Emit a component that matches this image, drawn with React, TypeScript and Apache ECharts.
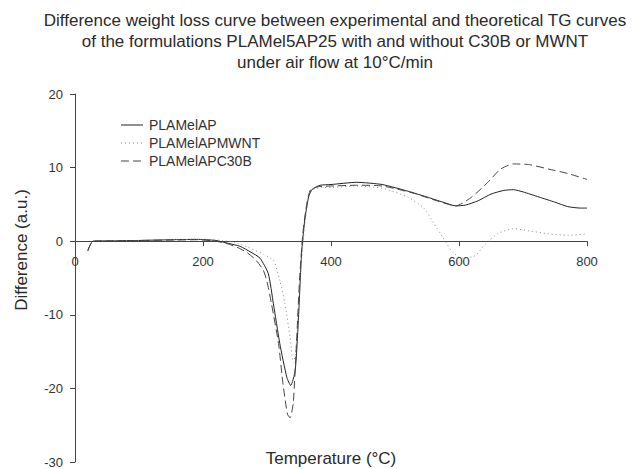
import React, { useEffect, useRef } from "react";
import * as echarts from "echarts";

const titleLines = [
  "Difference weight loss curve between experimental and theoretical TG curves",
  "of the formulations PLAMel5AP25 with and without C30B or MWNT",
  "under air flow at 10°C/min",
];
const xName = "Temperature (°C)";
const yName = "Difference (a.u.)";
const seriesNames = ["PLAMelAP", "PLAMelAPMWNT", "PLAMelAPC30B"];

const apT = [20, 28, 60, 100, 150, 190, 220, 240, 258, 275, 289, 302, 310, 320, 331, 337, 344, 349, 354, 359, 365, 370, 383, 400, 440, 480, 520, 550, 575, 595, 610, 630, 650, 670, 685, 700, 725, 750, 770, 790, 800];
const apV = [-1.3, 0, 0.05, 0.1, 0.2, 0.25, 0.1, -0.3, -0.7, -1.5, -2.3, -4.4, -8.5, -13.9, -18.5, -19.6, -17.6, -10.8, -1.7, 2.9, 6.0, 7.0, 7.6, 7.7, 8.0, 7.7, 6.8, 6.0, 5.3, 4.8, 4.9, 5.5, 6.4, 6.9, 7.0, 6.7, 6.0, 5.3, 4.7, 4.5, 4.5];

const mwT = [20, 28, 60, 100, 150, 190, 230, 250, 270, 295, 310, 320, 328, 336, 341, 345, 350, 355, 360, 366, 372, 385, 400, 440, 480, 520, 545, 560, 575, 590, 605, 625, 640, 660, 685, 710, 740, 770, 800];
const mwV = [-1.3, 0, 0.05, 0.1, 0.2, 0.25, 0.1, -0.2, -0.8, -1.8, -2.6, -5.3, -8.5, -13, -16.5, -15, -8, -1.5, 3, 6.3, 7.0, 7.3, 7.3, 7.5, 7.2, 6.0, 4.5, 2.5, 0.5, -1.5, -2.3, -2.0, -0.5, 1.0, 1.7, 1.4, 1.0, 0.8, 1.0];

const c30T = [20, 28, 60, 100, 150, 190, 220, 240, 255, 268, 282, 294, 300, 307, 318, 325, 332, 336, 341, 346, 351, 356, 362, 368, 380, 400, 440, 480, 530, 565, 595, 620, 645, 665, 685, 710, 740, 770, 800];
const c30V = [-1.3, 0, 0.05, 0.1, 0.15, 0.2, 0.0, -0.4, -0.9, -1.5, -2.5, -3.9, -5.5, -8.5, -13.9, -19.4, -23.5, -24.0, -22.0, -14.0, -5.0, 1.0, 5.0, 7.0, 7.4, 7.5, 7.6, 7.5, 6.5, 5.5, 4.8, 6.0, 8.0, 9.8, 10.5, 10.4, 9.8, 9.2, 8.4];

const pairs = (t: number[], v: number[]) => t.map((x, i) => [x, v[i]]);

const FONT = "Liberation Sans, Arial, sans-serif";

const GRID_TOP = 94;
const GRID_BOTTOM = 7;
const H = 469;
const Y_MIN = -30;
const Y_MAX = 20;

const styles = [
  { color: "#222", dash: null as number[] | null },
  { color: "#888", dash: [1, 3] },
  { color: "#444", dash: [8, 4] },
];

export default function App() {
  const ref = useRef<HTMLDivElement>(null);
  useEffect(() => {
    if (!ref.current) return;
    document.body.style.margin = "0";
    const chart = echarts.init(ref.current, undefined, { renderer: "svg" });
    const plotH = H - GRID_TOP - GRID_BOTTOM;
    const zeroOffset = (plotH * (0 - Y_MIN)) / (Y_MAX - Y_MIN);

    const legendGraphics: any[] = [];
    seriesNames.forEach((name, i) => {
      const y = 125 + i * 18;
      legendGraphics.push({
        type: "line",
        shape: { x1: 121, y1: y, x2: 143, y2: y },
        style: {
          stroke: styles[i].color,
          lineWidth: 1,
          lineDash: styles[i].dash || undefined,
        },
      });
      legendGraphics.push({
        type: "text",
        x: 149,
        y,
        style: {
          text: name,
          font: `14px ${FONT}`,
          fill: "#333",
          textAlign: "left",
          textVerticalAlign: "middle",
        },
      });
    });

    chart.setOption({
      animation: false,
      backgroundColor: "#ffffff",
      textStyle: { fontFamily: FONT },
      grid: {
        left: 75,
        right: 55,
        top: GRID_TOP,
        bottom: GRID_BOTTOM,
        containLabel: false,
        outerBoundsMode: "none",
      },
      xAxis: {
        type: "value",
        min: 0,
        max: 800,
        interval: 200,
        offset: -zeroOffset,
        splitLine: { show: false },
        axisLine: { onZero: false, lineStyle: { color: "#444", width: 1 } },
        axisTick: { show: true, inside: false, length: 5, lineStyle: { color: "#444" } },
        axisLabel: { fontFamily: FONT, fontSize: 13, color: "#333", margin: 14 },
      },
      yAxis: {
        type: "value",
        min: Y_MIN,
        max: Y_MAX,
        interval: 10,
        splitLine: { show: false },
        axisLine: { show: true, onZero: false, lineStyle: { color: "#444", width: 1 } },
        axisTick: { show: true, inside: false, length: 5, lineStyle: { color: "#444" } },
        axisLabel: { fontFamily: FONT, fontSize: 13, color: "#333", margin: 12 },
      },
      graphic: [
        {
          type: "text",
          x: 335,
          y: 10,
          style: {
            text: titleLines.join("\n"),
            font: `17px ${FONT}`,
            fill: "#2a2a2a",
            textAlign: "center",
            lineHeight: 21,
          },
        },
        {
          type: "text",
          x: 331,
          y: 458,
          style: {
            text: xName,
            font: `17px ${FONT}`,
            fill: "#2a2a2a",
            textAlign: "center",
            textVerticalAlign: "middle",
          },
        },
        {
          type: "text",
          x: 21,
          y: 250,
          rotation: Math.PI / 2,
          style: {
            text: yName,
            font: `17px ${FONT}`,
            fill: "#2a2a2a",
            textAlign: "center",
            textVerticalAlign: "middle",
          },
        },
        ...legendGraphics,
      ],
      series: [
        {
          name: seriesNames[0],
          type: "line",
          data: pairs(apT, apV),
          showSymbol: false,
          symbol: "none",
          smooth: 0.2,
          lineStyle: { color: styles[0].color, width: 1, type: "solid" },
        },
        {
          name: seriesNames[1],
          type: "line",
          data: pairs(mwT, mwV),
          showSymbol: false,
          symbol: "none",
          smooth: 0.2,
          lineStyle: { color: styles[1].color, width: 1, type: styles[1].dash },
        },
        {
          name: seriesNames[2],
          type: "line",
          data: pairs(c30T, c30V),
          showSymbol: false,
          symbol: "none",
          smooth: 0.2,
          lineStyle: { color: styles[2].color, width: 1, type: styles[2].dash },
        },
      ],
    });
    return () => chart.dispose();
  }, []);
  return <div ref={ref} style={{ width: 642, height: 469 }} />;
}
